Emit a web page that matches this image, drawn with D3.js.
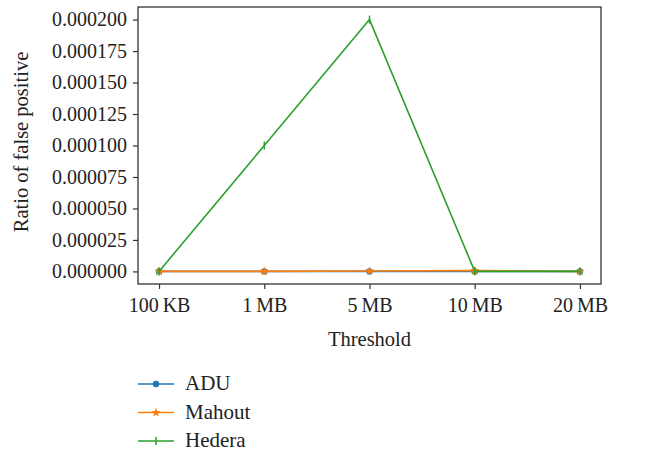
<!DOCTYPE html>
<html>
<head>
<meta charset="utf-8">
<script src="https://cdn.jsdelivr.net/npm/d3@7"></script>
<style>
  body { margin: 0; background: #fff; }
  text { font-family: "Liberation Serif", "DejaVu Serif", serif; fill: #222; }
</style>
</head>
<body>
<svg id="chart" width="654" height="453"></svg>
<script>
// data
const thresholds = ["100\u2009KB", "1\u2009MB", "5\u2009MB", "10\u2009MB", "20\u2009MB"];
const adu = [0, 0, 0, 0, 0];
const mahout = [0, 0, 0.0000003, 0.0000006, 0];
const hedera = [0, 0.0001, 0.0002, 0, 0];
const yTicks = [0, 0.000025, 0.00005, 0.000075, 0.0001, 0.000125, 0.00015, 0.000175, 0.0002];

const series = [
  { name: "ADU", values: adu, color: "#1f77b4", marker: "circle" },
  { name: "Mahout", values: mahout, color: "#ff7f0e", marker: "star" },
  { name: "Hedera", values: hedera, color: "#2ca02c", marker: "vline" }
];

const svg = d3.select("#chart");
const plotL = 138, plotR = 601, plotT = 7, plotB = 284;

const x = d3.scaleLinear().domain([-0.2, thresholds.length - 1 + 0.2]).range([plotL, plotR]);
const y = d3.scaleLinear().domain([-0.00001, 0.00021]).range([plotB, plotT]);

// axes
const xAxis = d3.axisBottom(x)
  .tickValues(d3.range(thresholds.length))
  .tickFormat(i => thresholds[i])
  .tickSize(5).tickPadding(9);
const yAxis = d3.axisLeft(y)
  .tickValues(yTicks)
  .tickFormat(d3.format(".6f"))
  .tickSize(5).tickPadding(6);

const gx = svg.append("g").attr("transform", `translate(0,${plotB})`).call(xAxis);
const gy = svg.append("g").attr("transform", `translate(${plotL},0)`).call(yAxis);
[gx, gy].forEach(g => {
  g.select(".domain").remove();
  g.selectAll(".tick line").attr("stroke", "#333").attr("stroke-width", 1.2);
  g.selectAll(".tick text").style("font-size", "20px").attr("fill", "#222")
    .style("font-family", "'Liberation Serif', serif");
});

// frame
svg.append("rect")
  .attr("x", plotL).attr("y", plotT)
  .attr("width", plotR - plotL).attr("height", plotB - plotT)
  .attr("fill", "none").attr("stroke", "#333").attr("stroke-width", 1.3);

// axis titles
svg.append("text")
  .attr("x", (plotL + plotR) / 2).attr("y", 346)
  .attr("text-anchor", "middle").style("font-size", "20.5px")
  .text("Threshold");
svg.append("text")
  .attr("transform", "translate(28,142) rotate(-90)")
  .attr("text-anchor", "middle").style("font-size", "20.5px")
  .text("Ratio of false positive");

function drawMarker(g, type, color) {
  if (type === "circle") {
    g.append("circle").attr("r", 3.2).attr("fill", color);
  } else if (type === "star") {
    g.append("path").attr("d", d3.symbol(d3.symbolStar, 28)()).attr("fill", color);
  } else {
    g.append("line").attr("y1", -4).attr("y2", 4)
      .attr("stroke", color).attr("stroke-width", 1.5);
  }
}

const line = d3.line().x((d, i) => x(i)).y(d => y(d));

series.forEach(s => {
  svg.append("path")
    .datum(s.values)
    .attr("fill", "none")
    .attr("stroke", s.color)
    .attr("stroke-width", 1.6)
    .attr("d", line);
  s.values.forEach((v, i) => {
    const g = svg.append("g").attr("transform", `translate(${x(i)},${y(v)})`);
    drawMarker(g, s.marker, s.color);
  });
});

// legend
const legend = svg.append("g");
series.forEach((s, k) => {
  const ly = 384 + k * 28.5;
  legend.append("line")
    .attr("x1", 138).attr("x2", 174).attr("y1", ly).attr("y2", ly)
    .attr("stroke", s.color).attr("stroke-width", 1.6);
  const g = legend.append("g").attr("transform", `translate(156,${ly})`);
  drawMarker(g, s.marker, s.color);
  legend.append("text")
    .attr("x", 185).attr("y", ly + 6)
    .style("font-size", "21px")
    .text(s.name);
});
</script>
</body>
</html>
